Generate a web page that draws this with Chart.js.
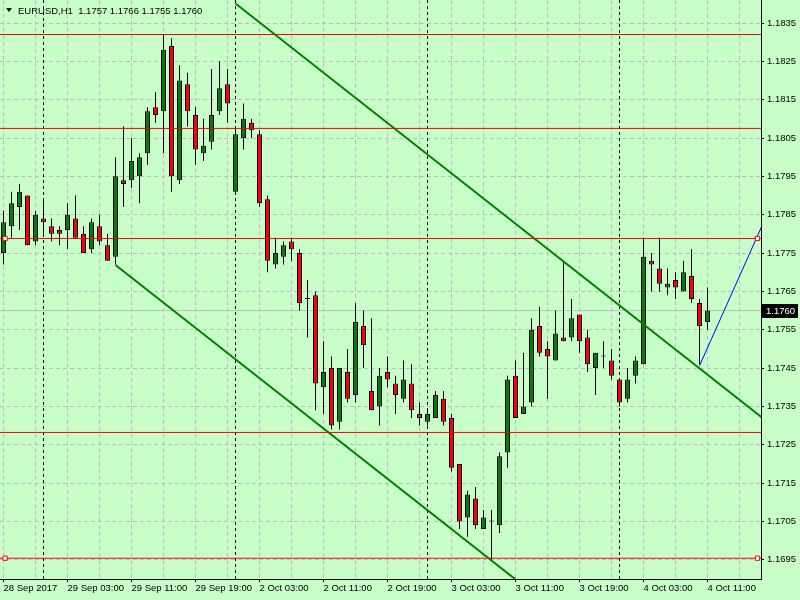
<!DOCTYPE html>
<html>
<head>
<meta charset="utf-8">
<style>
  html, body { margin: 0; padding: 0; background: #c8ffc8; }
  #wrap { width: 800px; height: 600px; }
</style>
<script src="https://cdn.jsdelivr.net/npm/chart.js@4.4.1/dist/chart.umd.min.js"></script>
</head>
<body>
<div id="wrap"><canvas id="chart" width="800" height="600"></canvas></div>
<script>
// EURUSD H1, 28 Sep 2017 19:00 .. 4 Oct 2017 11:00 (one entry per bar)
const symbol = "EURUSD,H1";
const timeLabels = ["28 Sep 2017", "29 Sep 03:00", "29 Sep 11:00", "29 Sep 19:00", "2 Oct 03:00", "2 Oct 11:00",
  "2 Oct 19:00", "3 Oct 03:00", "3 Oct 11:00", "3 Oct 19:00", "4 Oct 03:00", "4 Oct 11:00"];

const opens = [
  1.1775, 1.1782, 1.1787, 1.1790, 1.1778, 1.1784, 1.1782, 1.1781, 1.1781, 1.1784,
  1.1780, 1.1776, 1.1782, 1.1777, 1.1774, 1.1794, 1.1794, 1.1795, 1.1801, 1.1813,
  1.1812, 1.1829, 1.1794, 1.1819, 1.1811, 1.1801, 1.1804, 1.1812, 1.1819, 1.1791,
  1.1805, 1.1809, 1.1806, 1.1789, 1.1772, 1.1774, 1.1778, 1.1775, 1.1763, 1.1764,
  1.1740, 1.1745, 1.1731, 1.1744, 1.1738, 1.1756, 1.1739, 1.1735, 1.1744, 1.1741,
  1.1737, 1.1741, 1.1733, 1.1731, 1.1732, 1.1737, 1.1732, 1.1720, 1.1706, 1.1711,
  1.1703, 1.1705, 1.1704, 1.1723, 1.1743, 1.1733, 1.1736, 1.1756, 1.1750, 1.1747,
  1.1753, 1.1753, 1.1759, 1.1753, 1.1745, 1.1748, 1.1747, 1.1742, 1.1737, 1.1743,
  1.1746, 1.1773, 1.1771, 1.1766, 1.1768, 1.1765, 1.1769, 1.1762, 1.1757
];
const highs = [
  1.1786, 1.1791, 1.1793, 1.1790, 1.1786, 1.1789, 1.1784, 1.1782, 1.1788, 1.1790,
  1.1782, 1.1784, 1.1785, 1.1780, 1.1800, 1.1808, 1.1805, 1.1801, 1.1813, 1.1817,
  1.1832, 1.1831, 1.1824, 1.1822, 1.1813, 1.1810, 1.1823, 1.1825, 1.1823, 1.1808,
  1.1814, 1.1810, 1.1807, 1.1790, 1.1779, 1.1778, 1.1779, 1.1776, 1.1768, 1.1765,
  1.1752, 1.1748, 1.1745, 1.1750, 1.1762, 1.1760, 1.1758, 1.1745, 1.1748, 1.1743,
  1.1747, 1.1746, 1.1736, 1.1734, 1.1739, 1.1739, 1.1733, 1.1720, 1.1713, 1.1714,
  1.1708, 1.1708, 1.1723, 1.1743, 1.1747, 1.1749, 1.1758, 1.1761, 1.1752, 1.1760,
  1.1773, 1.1763, 1.1759, 1.1755, 1.1749, 1.1752, 1.1750, 1.1742, 1.1745, 1.1748,
  1.1779, 1.1775, 1.1779, 1.1771, 1.1770, 1.1773, 1.1776, 1.1763, 1.1766
];
const lows = [
  1.1772, 1.1779, 1.1781, 1.1777, 1.1777, 1.1780, 1.1778, 1.1777, 1.1776, 1.1779,
  1.1775, 1.1775, 1.1777, 1.1773, 1.1772, 1.1787, 1.1792, 1.1788, 1.1798, 1.1809,
  1.1801, 1.1791, 1.1793, 1.1808, 1.1798, 1.1799, 1.1802, 1.1811, 1.1809, 1.1791,
  1.1802, 1.1805, 1.1787, 1.1770, 1.1771, 1.1772, 1.1773, 1.1760, 1.1753, 1.1734,
  1.1733, 1.1729, 1.1729, 1.1736, 1.1736, 1.1745, 1.1734, 1.1730, 1.1740, 1.1733,
  1.1736, 1.1732, 1.1730, 1.1730, 1.1732, 1.1730, 1.1718, 1.1703, 1.1701, 1.1703,
  1.1703, 1.1695, 1.1702, 1.1719, 1.1732, 1.1733, 1.1735, 1.1748, 1.1737, 1.1747,
  1.1752, 1.1752, 1.1749, 1.1744, 1.1738, 1.1745, 1.1742, 1.1735, 1.1736, 1.1741,
  1.1746, 1.1765, 1.1765, 1.1764, 1.1763, 1.1765, 1.1762, 1.1746, 1.1755
];
const closes = [
  1.1783, 1.1788, 1.1791, 1.1777, 1.1785, 1.1783, 1.1780, 1.1780, 1.1785, 1.1779,
  1.1775, 1.1783, 1.1778, 1.1773, 1.1795, 1.1793, 1.1799, 1.1800, 1.1812, 1.1811,
  1.1828, 1.1795, 1.1820, 1.1812, 1.1802, 1.1803, 1.1811, 1.1818, 1.1814, 1.1806,
  1.1810, 1.1807, 1.1788, 1.1773, 1.1775, 1.1777, 1.1776, 1.1762, 1.1763, 1.1741,
  1.1744, 1.1730, 1.1745, 1.1737, 1.1757, 1.1751, 1.1734, 1.1743, 1.1742, 1.1738,
  1.1742, 1.1734, 1.1732, 1.1733, 1.1738, 1.1731, 1.1719, 1.1705, 1.1712, 1.1704,
  1.1706, 1.1705, 1.1722, 1.1742, 1.1732, 1.1735, 1.1755, 1.1749, 1.1748, 1.1754,
  1.1752, 1.1758, 1.1752, 1.1746, 1.1749, 1.1748, 1.1743, 1.1736, 1.1742, 1.1747,
  1.1774, 1.1772, 1.1767, 1.1767, 1.1766, 1.1770, 1.1763, 1.1756, 1.1760
];

const priceTicks = [1.1695, 1.1705, 1.1715, 1.1725, 1.1735, 1.1745, 1.1755, 1.1765,
  1.1775, 1.1785, 1.1795, 1.1805, 1.1815, 1.1825, 1.1835];

// chart objects
const levels = [1.1832, 1.18075, 1.17788, 1.17282, 1.16954];
const markedLevels = [1.17788, 1.16954];
const daySeparators = [5, 29, 53, 77];
const trendTop = [{ x: 29, y: 1.18401 }, { x: 95, y: 1.17318 }];
const trendBottom = [{ x: 14, y: 1.17719 }, { x: 66, y: 1.16866 }];
const blueRay = [{ x: 87, y: 1.17456 }, { x: 95, y: 1.17830 }];

const xMin = -0.4375, xMax = 94.6875;
const yMin = 1.168998, yMax = 1.18410;

const bg = "#c8ffc8";
const bullColor = "#008000";
const bearColor = "#ff0000";
const gridColor = "#bcbcbc";
const fontFamily = '"Liberation Sans", Arial, sans-serif';

Chart.defaults.font.family = fontFamily;
Chart.defaults.font.size = 9.5;
Chart.defaults.color = "#000";

const lastOpen = opens[opens.length - 1];
const lastHigh = highs[highs.length - 1];
const lastLow = lows[lows.length - 1];
const lastClose = closes[closes.length - 1];

function hLine(value, color, width, order) {
  return {
    type: "line",
    data: [{ x: xMin - 1, y: value }, { x: xMax + 1, y: value }],
    borderColor: color,
    borderWidth: width,
    pointRadius: 0,
    clip: 0,
    order: order,
  };
}

let datasets = [];

// objects on top
levels.forEach((lv) => datasets.push(hLine(lv, "#ff0000", 1, 0)));
datasets.push({
  type: "line", data: trendTop, borderColor: "#008000", borderWidth: 2, pointRadius: 0, clip: 0, order: 0,
});
datasets.push({
  type: "line", data: trendBottom, borderColor: "#008000", borderWidth: 2, pointRadius: 0, clip: 0, order: 0,
});
datasets.push({
  type: "line", data: blueRay, borderColor: "#0000ff", borderWidth: 1, pointRadius: 0, clip: 0, order: 0,
});
let markers = [];
markedLevels.forEach((lv) => {
  markers.push({ x: xMin + 0.64, y: lv });
  markers.push({ x: xMax - 0.44, y: lv });
});
datasets.push({
  type: "line", data: markers, showLine: false, pointStyle: "rect", pointRadius: 3,
  pointBackgroundColor: "#ffffff", pointBorderColor: "#ff0000", pointBorderWidth: 1, clip: false, order: -1,
});

// candle bodies
datasets.push({
  type: "bar",
  data: opens.map((o, i) => ({ x: i, y: [o, closes[i]] })),
  backgroundColor: closes.map((c, i) => (c >= opens[i] ? bullColor : bearColor)),
  borderColor: "#000",
  borderWidth: 1,
  borderSkipped: false,
  barThickness: 5,
  minBarLength: 1,
  inflateAmount: 0,
  grouped: false,
  order: 1,
});
// wicks
datasets.push({
  type: "bar",
  data: lows.map((l, i) => ({ x: i, y: [l, highs[i]] })),
  backgroundColor: "#000",
  borderWidth: 0,
  barThickness: 1,
  inflateAmount: 0,
  grouped: false,
  order: 2,
});

// background objects: bid line and period separators
datasets.push(hLine(lastClose, "#c0c0c0", 1, 3));
daySeparators.forEach((d) => {
  datasets.push({
    type: "line",
    data: [{ x: d, y: yMin }, { x: d, y: yMax }],
    borderColor: "#000",
    borderWidth: 1,
    borderDash: [3, 3],
    pointRadius: 0,
    clip: 0,
    order: 3,
  });
});

const mtPlugin = {
  id: "mt",
  beforeDraw(chart) {
    const c = chart.ctx;
    c.save();
    c.fillStyle = bg;
    c.fillRect(0, 0, chart.width, chart.height);
    c.restore();
  },
  afterDraw(chart) {
    const c = chart.ctx;
    const yScale = chart.scales.y;
    const area = chart.chartArea;
    c.save();
    // header
    c.fillStyle = "#000";
    c.beginPath();
    c.moveTo(6, 8);
    c.lineTo(12, 8);
    c.lineTo(9, 12);
    c.closePath();
    c.fill();
    c.font = "9.5px " + fontFamily;
    c.textBaseline = "middle";
    c.textAlign = "left";
    c.fillText(symbol + "  " + [lastOpen, lastHigh, lastLow, lastClose].map((v) => v.toFixed(4)).join(" "), 18, 11);
    // bid label
    const py = Math.round(yScale.getPixelForValue(lastClose));
    c.fillStyle = "#000";
    c.fillRect(area.right + 1, py - 7, 36, 14);
    c.fillStyle = "#fff";
    c.fillText(lastClose.toFixed(4), area.right + 5, py + 0.5);
    c.restore();
  },
};

const ctx = document.getElementById("chart").getContext("2d");
new Chart(ctx, {
  type: "bar",
  data: { datasets: datasets },
  options: {
    responsive: false,
    devicePixelRatio: 1,
    animation: false,
    events: [],
    layout: { padding: 0, autoPadding: false },
    plugins: { legend: { display: false }, tooltip: { enabled: false } },
    scales: {
      x: {
        type: "linear",
        min: xMin,
        max: xMax,
        offset: false,
        afterBuildTicks: (scale) => {
          let t = [];
          for (let v = 0; v <= 92; v += 4) t.push({ value: v });
          scale.ticks = t;
        },
        afterFit: (scale) => {
          scale.height = 21;
          scale.paddingLeft = 0;
          scale.paddingRight = 0;
        },
        grid: {
          offset: false,
          color: gridColor,
          tickLength: 3,
          tickColor: (c) => (c.tick && c.tick.value % 8 === 0 ? "#000" : "rgba(0,0,0,0)"),
        },
        border: { color: "#000", dash: [4, 3] },
        ticks: {
          align: "start",
          padding: 1,
          maxRotation: 0,
          autoSkip: false,
          color: "#000",
          callback: (v) => (v % 8 === 0 ? timeLabels[v / 8] : ""),
        },
      },
      y: {
        position: "right",
        min: yMin,
        max: yMax,
        afterBuildTicks: (scale) => {
          scale.ticks = priceTicks.map((v) => ({ value: v }));
        },
        afterFit: (scale) => {
          scale.width = 39;
          scale.paddingTop = 0;
          scale.paddingBottom = 0;
        },
        grid: { color: gridColor, tickLength: 3, tickColor: "#000" },
        border: { color: "#000", dash: [4, 3] },
        ticks: {
          padding: 3,
          color: "#000",
          callback: (v) => v.toFixed(4),
        },
      },
    },
  },
  plugins: [mtPlugin],
});
</script>
</body>
</html>
